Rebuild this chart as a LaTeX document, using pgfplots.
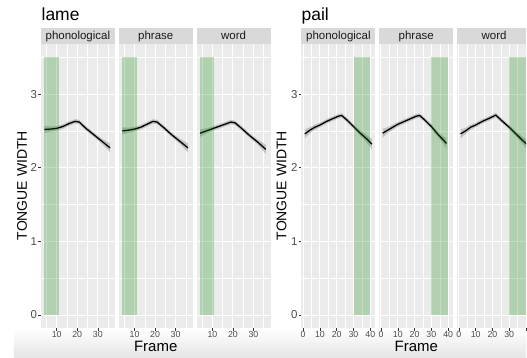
\documentclass[border=0pt]{standalone}
\usepackage{fontspec}
\setmainfont{Liberation Sans}
\usepackage{pgfplots}
\usepackage{pgfplotstable}
\pgfplotsset{compat=1.18}
\usetikzlibrary{calc}
\definecolor{panelbg}{RGB}{235,235,235}
\definecolor{stripbg}{RGB}{217,217,217}
\definecolor{ribbon}{RGB}{153,153,153}
\definecolor{ggreen}{RGB}{0,128,0}
\definecolor{ticklab}{RGB}{77,77,77}
\definecolor{tickcol}{RGB}{51,51,51}
\definecolor{striptext}{RGB}{26,26,26}

% smoothed curves (x, y)
\pgfplotstableread{
x y
4 2.52
7 2.525
10 2.535
13 2.56
16 2.60
19 2.63
21 2.62
24 2.54
28 2.45
32 2.36
36 2.27
}\lamephon
\pgfplotstableread{
x y
4 2.50
7 2.51
10 2.525
13 2.55
16 2.59
19 2.63
21 2.62
24 2.55
28 2.45
32 2.36
36 2.27
}\lamephrase
\pgfplotstableread{
x y
4 2.47
7 2.50
10 2.53
13 2.56
16 2.59
19 2.62
21 2.61
24 2.54
28 2.44
32 2.35
36 2.25
}\lameword
\pgfplotstableread{
x y
1 2.46
4 2.51
7 2.55
10 2.58
14 2.63
18 2.67
21 2.70
23 2.71
26 2.65
30 2.56
34 2.47
38 2.39
41 2.32
}\pailphon
\pgfplotstableread{
x y
1 2.47
4 2.51
7 2.55
10 2.59
14 2.63
18 2.67
21 2.70
23 2.71
26 2.65
30 2.56
34 2.45
37 2.38
39 2.33
}\pailphrase
\pgfplotstableread{
x y
1 2.46
4 2.50
7 2.55
10 2.58
14 2.63
18 2.67
22 2.715
26 2.63
30 2.55
34 2.46
38 2.37
41 2.31
}\pailword

% confidence bands (upper edge forward, lower edge back)
\pgfplotstableread{
x y
4 2.57
7 2.56
10 2.565
13 2.59
16 2.63
19 2.66
21 2.65
24 2.57
28 2.48
32 2.395
36 2.33
36 2.21
32 2.325
28 2.42
24 2.51
21 2.59
19 2.60
16 2.57
13 2.53
10 2.505
7 2.49
4 2.47
}\lamephonband
\pgfplotstableread{
x y
4 2.55
7 2.545
10 2.555
13 2.58
16 2.62
19 2.66
21 2.65
24 2.58
28 2.48
32 2.395
36 2.33
36 2.21
32 2.325
28 2.42
24 2.52
21 2.59
19 2.60
16 2.56
13 2.52
10 2.495
7 2.475
4 2.45
}\lamephraseband
\pgfplotstableread{
x y
4 2.52
7 2.535
10 2.56
13 2.59
16 2.62
19 2.65
21 2.64
24 2.57
28 2.47
32 2.385
36 2.31
36 2.19
32 2.315
28 2.41
24 2.51
21 2.58
19 2.59
16 2.56
13 2.53
10 2.50
7 2.465
4 2.42
}\lamewordband
\pgfplotstableread{
x y
1 2.52
4 2.55
7 2.585
10 2.61
14 2.66
18 2.70
21 2.73
23 2.74
26 2.68
30 2.59
34 2.505
38 2.44
41 2.39
41 2.25
38 2.34
34 2.435
30 2.53
26 2.62
23 2.68
21 2.67
18 2.64
14 2.60
10 2.55
7 2.515
4 2.47
1 2.40
}\pailphonband
\pgfplotstableread{
x y
1 2.53
4 2.55
7 2.585
10 2.62
14 2.66
18 2.70
21 2.73
23 2.74
26 2.68
30 2.59
34 2.485
37 2.43
39 2.40
39 2.26
37 2.33
34 2.415
30 2.53
26 2.62
23 2.68
21 2.67
18 2.64
14 2.60
10 2.56
7 2.515
4 2.47
1 2.41
}\pailphraseband
\pgfplotstableread{
x y
1 2.52
4 2.54
7 2.585
10 2.61
14 2.66
18 2.70
22 2.745
26 2.66
30 2.58
34 2.495
38 2.42
41 2.38
41 2.24
38 2.32
34 2.425
30 2.52
26 2.60
22 2.685
18 2.64
14 2.60
10 2.55
7 2.515
4 2.46
1 2.40
}\pailwordband

\pgfplotsset{
  facet/.style={
    scale only axis, width=74pt, height=284pt, anchor=south west,
    axis background/.style={fill=panelbg},
    axis line style={draw=none},
    grid=both,
    major grid style={white, line width=1pt},
    minor grid style={white, line width=0.5pt},
    ymin=-0.175, ymax=3.675,
    ytick={0,1,2,3}, minor ytick={0.5,1.5,2.5,3.5},
    xtick pos=left, ytick pos=left,
    tick align=outside, major tick length=2.75pt, minor tick length=0pt,
    tick style={color=tickcol, line width=0.5pt},
    /pgf/number format/assume math mode=true,
    xticklabel style={font=\fontsize{8.8}{8.8}\selectfont, text=ticklab, inner sep=1pt},
    yticklabel style={font=\fontsize{11.5}{11.5}\selectfont, text=ticklab, inner sep=1pt},
  },
  lamex/.style={xmin=2.3, xmax=38.3, xtick={10,20,30}, minor xtick={5,15,25,35}},
  pailx/.style={xmin=-1, xmax=43, xtick={0,10,20,30,40}, minor xtick={5,15,25,35}},
  inner/.style={yticklabels={}, ytick style={draw=none}},
}

\newcommand{\facet}[6]{%
\begin{axis}[facet, at={(#1pt,29.5pt)}, #6]
\addplot[fill=ribbon, fill opacity=0.5, draw=none] table[x=x,y=y]{#3} -- cycle;
\addplot[black, line width=1.3pt] table[x=x,y=y]{#2};
\addplot[fill=ggreen, fill opacity=0.25, draw=none] coordinates {(#4,0) (#5,0) (#5,3.5) (#4,3.5)} -- cycle;
\end{axis}}

\newcommand{\strip}[3][74]{%
\fill[stripbg] (#2pt,313.5pt) rectangle ++(#1pt,16pt);
\node[anchor=base, inner sep=0pt, text=striptext, font=\fontsize{11.5}{11.5}\selectfont] at ($(#2pt,318pt)+(37pt,0pt)$) {#3};}

\begin{document}
\begin{tikzpicture}
\fill[white] (0pt,0pt) rectangle (527pt,358pt);
\shade[top color=white, bottom color=black!10] (14pt,0pt) rectangle (527pt,29.5pt);

\facet{41}{\lamephon}{\lamephonband}{4}{11}{lamex}
\facet{119}{\lamephrase}{\lamephraseband}{4}{11}{lamex, inner}
\facet{197}{\lameword}{\lamewordband}{4}{11}{lamex, inner}
\facet{302}{\pailphon}{\pailphonband}{30}{40}{pailx}
\facet{380}{\pailphrase}{\pailphraseband}{30}{40}{pailx, inner}
\facet{458}{\pailword}{\pailwordband}{30}{40}{pailx, inner, width=69pt, xmax=40.03, xticklabels={0,10,20,30,}}

\strip{41}{phonological}
\strip{119}{phrase}
\strip{197}{word}
\strip{302}{phonological}
\strip{380}{phrase}
\strip[69]{458}{word}

\node[anchor=base west, inner sep=0pt, font=\fontsize{17.5}{17.5}\selectfont] at (41.5pt,337pt) {lame};
\node[anchor=base west, inner sep=0pt, font=\fontsize{17.5}{17.5}\selectfont] at (302pt,337.3pt) {pail};

\node[rotate=90, anchor=base, inner sep=0pt, font=\fontsize{14}{14}\selectfont] at (27pt,172pt) {TONGUE WIDTH};
\node[rotate=90, anchor=base, inner sep=0pt, font=\fontsize{14}{14}\selectfont] at (287pt,172pt) {TONGUE WIDTH};

\node[anchor=base, inner sep=0pt, font=\fontsize{15}{15}\selectfont] at (156pt,6.3pt) {Frame};
\node[anchor=base, inner sep=0pt, font=\fontsize{15}{15}\selectfont] at (417pt,6.3pt) {Frame};
\end{tikzpicture}
\end{document}
